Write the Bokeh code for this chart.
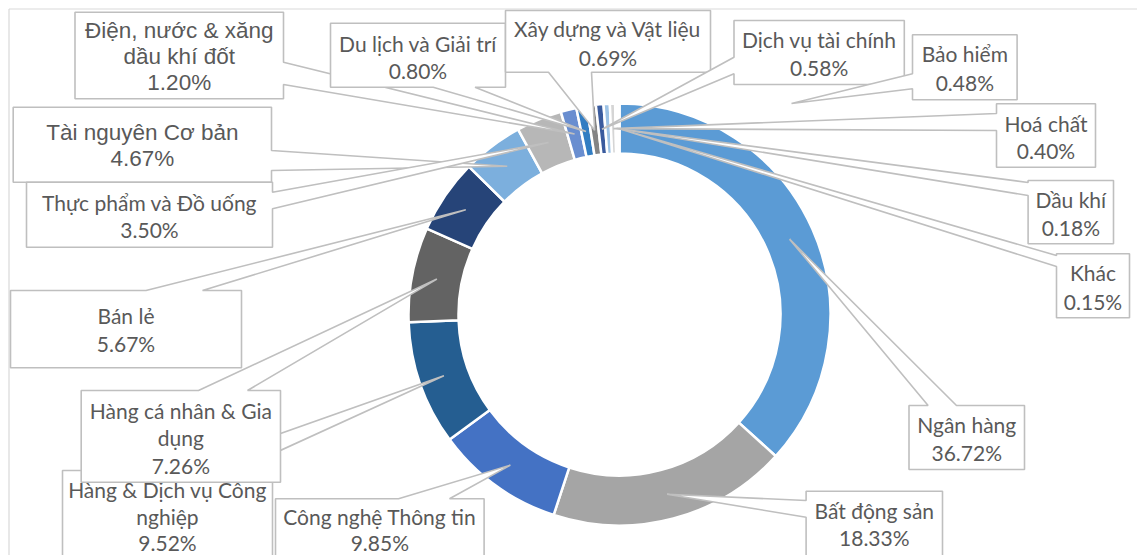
import math
from bokeh.plotting import figure
from bokeh.models import Range1d, ColumnDataSource
from bokeh.core.properties import value
from bokeh.embed import file_html
from bokeh.resources import INLINE

# ---------------- data ----------------
categories = [
    "Ngân hàng", "Bất động sản", "Công nghệ Thông tin", "Hàng & Dịch vụ Công nghiệp",
    "Hàng cá nhân & Gia dụng", "Bán lẻ", "Tài nguyên Cơ bản", "Thực phẩm và Đồ uống",
    "Điện, nước & xăng dầu khí đốt", "Du lịch và Giải trí", "Xây dựng và Vật liệu",
    "Dịch vụ tài chính", "Bảo hiểm", "Hoá chất", "Dầu khí", "Khác",
]
shares = [36.72, 18.33, 9.85, 9.52, 7.26, 5.67, 4.67, 3.50,
          1.20, 0.80, 0.69, 0.58, 0.48, 0.40, 0.18, 0.15]

# ---------------- styles / layout ----------------
colors = ["#5B9BD5", "#A5A5A5", "#4472C4", "#255E91", "#636363", "#264478",
          "#7CAFDD", "#B7B7B7", "#698ED0", "#327DC2", "#848484", "#3A5B9E",
          "#9DC3E6", "#D5D5D5", "#8FAADC", "#BDD7EE"]

CX, CY = 619, 314          # ring centre (screen px)
R_OUT, R_IN = 211, 161
R_TIP = (R_OUT + R_IN) / 2

# number of words on the first line of each wrapped label
wrap = {
    "Hàng & Dịch vụ Công nghiệp": [5],
    "Hàng cá nhân & Gia dụng": [5],
    "Điện, nước & xăng dầu khí đốt": [4],
}
# callout boxes (x0, y0, x1, y1) in screen px
boxes = [
    (908.5, 405, 1024, 469), (805.6, 490.7, 942, 590), (275, 498.3, 483.6, 590),
    (62, 470, 272, 590), (80.7, 390, 280, 481.7), (10, 290, 241, 367.3),
    (12.7, 106.7, 271, 181.7), (26, 181.7, 272, 246.7), (74.5, 11.7, 283, 98.3),
    (330, 22.7, 505, 86.7), (505, 10, 710, 71.7), (733.5, 20, 903.8, 84),
    (912, 34.3, 1016.6, 99.3), (996, 103.3, 1095, 166.7), (1027.6, 180, 1113, 243.3),
    (1056, 253.3, 1129, 317.3),
]
# pointer base: (edge, a, b)
bases = [
    ("top", 927.6, 956), ("left", 500, 516.7), ("top", 398, 449),
    ("top", 175, 236), ("top", 198, 247), ("top", 145.5, 202),
    ("right", 150, 170), ("right", 191.7, 208.3), ("right", 61.7, 84),
    ("bottom", 432.7, 474.5), ("bottom", 548, 591), ("left", 56.7, 73.3),
    ("left", 73.3, 88.3), ("left", 113, 130), ("left", 182, 195),
    ("left", 255, 266),
]
tip_override = {"Bảo hiểm": (791, 103)}
# line centres (screen y)
line_y = [
    [424, 451.7], [510, 536.7], [516, 541.5], [489, 515.5, 541.5], [410, 436.7, 465],
    [315, 343.3], [131.7, 158.3], [201.7, 229.3], [30, 55.5, 81.7], [43.3, 70],
    [28.3, 56.7], [39.3, 66.7], [53.3, 81.7], [123.3, 150], [199, 226.7], [271.7, 300.7],
]
arial_like = {"Tài nguyên Cơ bản", "Điện, nước & xăng dầu khí đốt"}
TEXT_COLOR = "#595959"
EDGE_COLOR = "#BFBFBF"

W, H = 1137, 555
p = figure(width=W, height=H, x_range=Range1d(0, W), y_range=Range1d(-H, 0),
           output_backend="svg", toolbar_location=None, min_border=0,
           x_axis_location=None, y_axis_location=None)
p.grid.visible = False
p.outline_line_color = None
p.background_fill_color = "white"
p.border_fill_color = "white"

# chart frame (top and left visible)
p.segment(x0=[8.5, 8.5], y0=[-8.5, -8.5], x1=[W, 8.5], y1=[-8.5, -H],
          line_color="#D9D9D9", line_width=1.2)

# ring
starts, ends, mids = [], [], []
cum = 0.0
total = sum(shares)
for v in shares:
    phi0 = cum / total * 360.0
    phi1 = (cum + v) / total * 360.0
    starts.append(math.radians(90 - phi1))
    ends.append(math.radians(90 - phi0))
    mids.append((phi0 + phi1) / 2)
    cum += v
src = ColumnDataSource(dict(start=starts, end=ends, color=colors))
p.annular_wedge(x=CX, y=-CY, inner_radius=R_IN, outer_radius=R_OUT,
                start_angle="start", end_angle="end", direction="anticlock",
                fill_color="color", line_color="white", line_width=2.5, source=src)

# callouts
for i, name in enumerate(categories):
    x0, y0, x1, y1 = boxes[i]
    if name in tip_override:
        tx, ty = tip_override[name]
    else:
        a = math.radians(mids[i])
        tx, ty = CX + R_TIP * math.sin(a), CY - R_TIP * math.cos(a)
    edge, a_, b_ = bases[i]
    pts = [(x0, y0)]
    if edge == "top":
        pts += [(a_, y0), (tx, ty), (b_, y0)]
    pts += [(x1, y0)]
    if edge == "right":
        pts += [(x1, a_), (tx, ty), (x1, b_)]
    pts += [(x1, y1)]
    if edge == "bottom":
        pts += [(b_, y1), (tx, ty), (a_, y1)]
    pts += [(x0, y1)]
    if edge == "left":
        pts += [(x0, b_), (tx, ty), (x0, a_)]
    p.patch([q[0] for q in pts], [-q[1] for q in pts], fill_color="white",
            line_color=EDGE_COLOR, line_width=1.6)

    words = name.split(" ")
    lines = []
    prev = 0
    for k in wrap.get(name, []):
        lines.append(" ".join(words[prev:k]))
        prev = k
    lines.append(" ".join(words[prev:]))
    lines.append(f"{shares[i]:.2f}%")
    if name in arial_like:
        font, size = "Liberation Sans", "22.5px"
    else:
        font, size = "Lato", "21px"
    cxb = (x0 + x1) / 2
    for j, ln in enumerate(lines):
        p.text(x=[cxb], y=[-line_y[i][j]], text=[ln], text_align="center",
               text_baseline="middle", text_font=value(font), text_font_size=size,
               text_color=TEXT_COLOR)

open("out.html", "w").write(file_html(p, INLINE))
